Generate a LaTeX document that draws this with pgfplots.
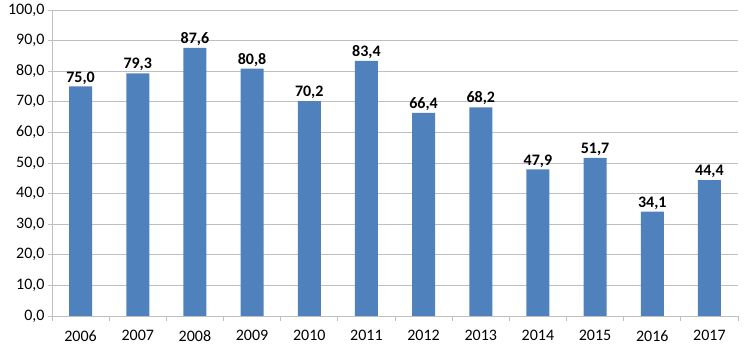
\documentclass[border=0pt]{standalone}
\usepackage{pgfplots}
\pgfplotsset{compat=1.18}
\usepackage{fontspec}
\setmainfont{Carlito}
\definecolor{barblue}{HTML}{4F81BD}
\definecolor{gridgray}{HTML}{BFBFBF}
\begin{document}
\begin{tikzpicture}[x=1pt,y=1pt]
\useasboundingbox (0,0) rectangle (750,351);
\begin{axis}[
  at={(52pt,35pt)}, anchor=south west,
  scale only axis, width=686pt, height=306pt,
  ymin=0, ymax=100, ytick={0,10,...,100},
  xmin=-0.5, xmax=11.5,
  xtick={0,...,11},
  xticklabels={2006,2007,2008,2009,2010,2011,2012,2013,2014,2015,2016,2017},
  minor xtick={-0.5,0.5,...,11.5},
  axis x line*=bottom, axis y line*=left,
  axis line style={gridgray, line width=0.8pt},
  x axis line style={-}, y axis line style={-},
  ymajorgrids, major grid style={gridgray, line width=0.8pt},
  major x tick style={draw=none},
  minor x tick style={gridgray, line width=0.8pt},
  minor tick length=5pt,
  major tick length=4pt,
  tick align=outside,
  y tick style={gridgray, line width=0.8pt},
  ticklabel style={font=\fontsize{16}{19}\selectfont, text=black},
  xticklabel style={yshift=-7pt},
  /pgf/number format/assume math mode=true,
  yticklabel={\pgfmathprintnumber[fixed,fixed zerofill,precision=1,use comma]{\tick}},
  ybar, bar width=23pt,
  nodes near coords={\pgfmathprintnumber[fixed,fixed zerofill,precision=1,use comma]{\pgfplotspointmeta}},
  nodes near coords style={font=\bfseries\fontsize{16}{19}\selectfont, text=black, inner sep=2pt},
  clip=false,
]
\addplot[fill=barblue, draw=none] coordinates {
(0,75.0) (1,79.3) (2,87.6) (3,80.8) (4,70.2) (5,83.4)
(6,66.4) (7,68.2) (8,47.9) (9,51.7) (10,34.1) (11,44.4)};
\end{axis}
\end{tikzpicture}
\end{document}
